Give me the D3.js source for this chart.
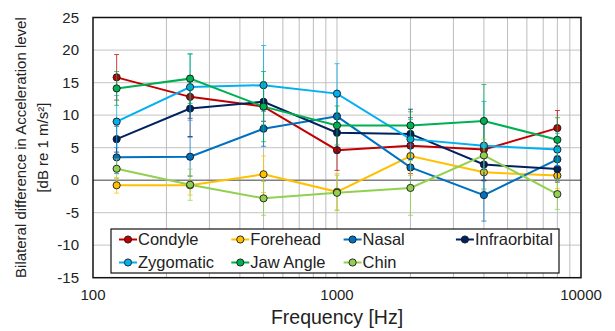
<!DOCTYPE html>
<html>
<head>
<meta charset="utf-8">
<script src="https://cdn.jsdelivr.net/npm/d3@7"></script>
<style>
  body { margin: 0; background: #fff; }
  svg { display: block; font-family: "Liberation Sans", Arial, sans-serif; }
</style>
</head>
<body>
<div id="chart"></div>
<script>
// values
const freqs = [125, 250, 500, 1000, 2000, 4000, 8000];
const xTicks = [100, 1000, 10000];
const yTicks = [-15, -10, -5, 0, 5, 10, 15, 20, 25];

const seriesNames = ['Condyle', 'Forehead', 'Nasal', 'Infraorbital', 'Zygomatic', 'Jaw Angle', 'Chin'];
const seriesColors = ['#C00000', '#FFC000', '#0070C0', '#002060', '#00B0F0', '#00B050', '#92D050'];

const condyle = [15.8, 12.8, 11.3, 4.6, 5.3, 4.7, 8.0];
const forehead = [-0.8, -0.8, 0.9, -1.8, 3.7, 1.2, 0.7];
const nasal = [3.5, 3.6, 7.9, 9.8, 1.95, -2.3, 3.2];
const infraorbital = [6.3, 11.0, 12.05, 7.3, 7.1, 2.4, 1.7];
const zygomatic = [9.0, 14.3, 14.6, 13.3, 6.3, 5.3, 4.7];
const jawAngle = [14.1, 15.6, 11.3, 8.4, 8.4, 9.1, 6.2];
const chin = [1.75, -0.7, -2.8, -1.95, -1.2, 3.8, -2.15];

const condyleErr = [3.5, 3.3, 3.0, 3.1, 4.3, 4.7, 2.7];
const foreheadErr = [1.2, 1.5, 2.8, 2.8, 3.0, 2.5, 2.0];
const nasalErr = [2.5, 3.0, 2.7, 3.0, 3.5, 4.0, 3.0];
const infraorbitalErr = [2.0, 4.3, 3.0, 3.0, 3.8, 2.5, 2.0];
const zygomaticErr = [4.0, 5.1, 6.1, 4.6, 3.0, 6.8, 2.5];
const jawAngleErr = [2.6, 3.8, 5.4, 3.0, 2.1, 5.6, 3.4];
const chinErr = [1.5, 2.4, 2.6, 2.7, 4.2, 2.5, 2.35];

const seriesValues = [condyle, forehead, nasal, infraorbital, zygomatic, jawAngle, chin];
const seriesErrors = [condyleErr, foreheadErr, nasalErr, infraorbitalErr, zygomaticErr, jawAngleErr, chinErr];

const width = 615, height = 331;
const plotL = 93, plotR = 581, plotT = 17.5, plotB = 277.7;

let svg = d3.select('#chart').append('svg')
    .attr('width', width)
    .attr('height', height);

let x = d3.scaleLog().domain([100, 10000]).range([plotL, plotR]);
let y = d3.scaleLinear().domain([-15, 25]).range([plotB, plotT]);

// grid
let minor = [];
[100, 1000].forEach(d => { for (let k = 2; k <= 9; k++) minor.push(d * k); });
minor.push(1000);

svg.append('g').selectAll('line')
    .data(yTicks.filter(d => d !== 0 && d !== -15 && d !== 25))
    .join('line')
    .attr('x1', plotL).attr('x2', plotR)
    .attr('y1', d => y(d)).attr('y2', d => y(d))
    .attr('stroke', '#cfcfcf')
    .attr('stroke-width', 1.2);

svg.append('g').selectAll('line')
    .data(minor)
    .join('line')
    .attr('x1', d => x(d)).attr('x2', d => x(d))
    .attr('y1', plotT).attr('y2', plotB)
    .attr('stroke', '#bdbdbd')
    .attr('stroke-width', 1);

// zero line
svg.append('line')
    .attr('x1', plotL).attr('x2', plotR)
    .attr('y1', y(0)).attr('y2', y(0))
    .attr('stroke', '#7f7f7f')
    .attr('stroke-width', 1.5);

// series
let line = d3.line()
    .x((d, i) => x(freqs[i]))
    .y(d => y(d));

seriesValues.forEach((vals, s) => {
    let color = seriesColors[s];
    let errs = seriesErrors[s];
    let g = svg.append('g');

    let eb = g.append('g')
        .attr('stroke', color)
        .attr('stroke-width', 1)
        .attr('opacity', 0.75);
    vals.forEach((v, i) => {
        let cx = x(freqs[i]);
        let y1 = y(v + errs[i]), y2 = y(v - errs[i]);
        eb.append('line').attr('x1', cx).attr('x2', cx).attr('y1', y1).attr('y2', y2);
        eb.append('line').attr('x1', cx - 2.5).attr('x2', cx + 2.5).attr('y1', y1).attr('y2', y1);
        eb.append('line').attr('x1', cx - 2.5).attr('x2', cx + 2.5).attr('y1', y2).attr('y2', y2);
    });

    g.append('path')
        .attr('d', line(vals))
        .attr('fill', 'none')
        .attr('stroke', color)
        .attr('stroke-width', 2);

    g.selectAll('circle')
        .data(vals)
        .join('circle')
        .attr('cx', (d, i) => x(freqs[i]))
        .attr('cy', d => y(d))
        .attr('r', 3.6)
        .attr('fill', color)
        .attr('stroke', '#1a1a1a')
        .attr('stroke-width', 0.9);
});

// plot frame
svg.append('rect')
    .attr('x', plotL).attr('y', plotT)
    .attr('width', plotR - plotL).attr('height', plotB - plotT)
    .attr('fill', 'none')
    .attr('stroke', '#111')
    .attr('stroke-width', 1.5);

// tick labels
svg.append('g').selectAll('text')
    .data(yTicks)
    .join('text')
    .attr('x', 79)
    .attr('y', d => y(d))
    .attr('dy', '0.35em')
    .attr('text-anchor', 'end')
    .attr('font-size', 15)
    .attr('fill', '#222')
    .text(d => d);

svg.append('g').selectAll('text')
    .data(xTicks)
    .join('text')
    .attr('x', d => x(d))
    .attr('y', 300)
    .attr('text-anchor', 'middle')
    .attr('font-size', 15)
    .attr('fill', '#222')
    .text(d => d);

// axis titles
svg.append('text')
    .attr('x', 337)
    .attr('y', 324)
    .attr('text-anchor', 'middle')
    .attr('font-size', 19.5)
    .attr('fill', '#222')
    .text('Frequency [Hz]');

let yt = svg.append('text')
    .attr('transform', `translate(0, ${(plotT + plotB) / 2}) rotate(-90)`)
    .attr('text-anchor', 'middle')
    .attr('font-size', 15)
    .attr('fill', '#222');
yt.append('tspan').attr('x', 0).attr('y', 26).text('Bilateral difference in Acceleration level');
yt.append('tspan').attr('x', 0).attr('y', 48).text('[dB re 1 m/s²]');

// legend
let legend = svg.append('g');
legend.append('rect')
    .attr('x', 111).attr('y', 229)
    .attr('width', 448).attr('height', 44)
    .attr('fill', '#fff')
    .attr('stroke', '#111')
    .attr('stroke-width', 1.2);

seriesNames.forEach((name, i) => {
    let col = i % 4, row = Math.floor(i / 4);
    let lx = 119 + col * 112.3;
    let ly = 239.5 + row * 23;
    let color = seriesColors[i];
    legend.append('line')
        .attr('x1', lx).attr('x2', lx + 18)
        .attr('y1', ly).attr('y2', ly)
        .attr('stroke', color)
        .attr('stroke-width', 2);
    legend.append('circle')
        .attr('cx', lx + 9).attr('cy', ly)
        .attr('r', 3.6)
        .attr('fill', color)
        .attr('stroke', '#1a1a1a')
        .attr('stroke-width', 0.9);
    legend.append('text')
        .attr('x', lx + 19)
        .attr('y', ly)
        .attr('dy', '0.36em')
        .attr('font-size', 16.5)
        .attr('fill', '#222')
        .text(name);
});
</script>
</body>
</html>
